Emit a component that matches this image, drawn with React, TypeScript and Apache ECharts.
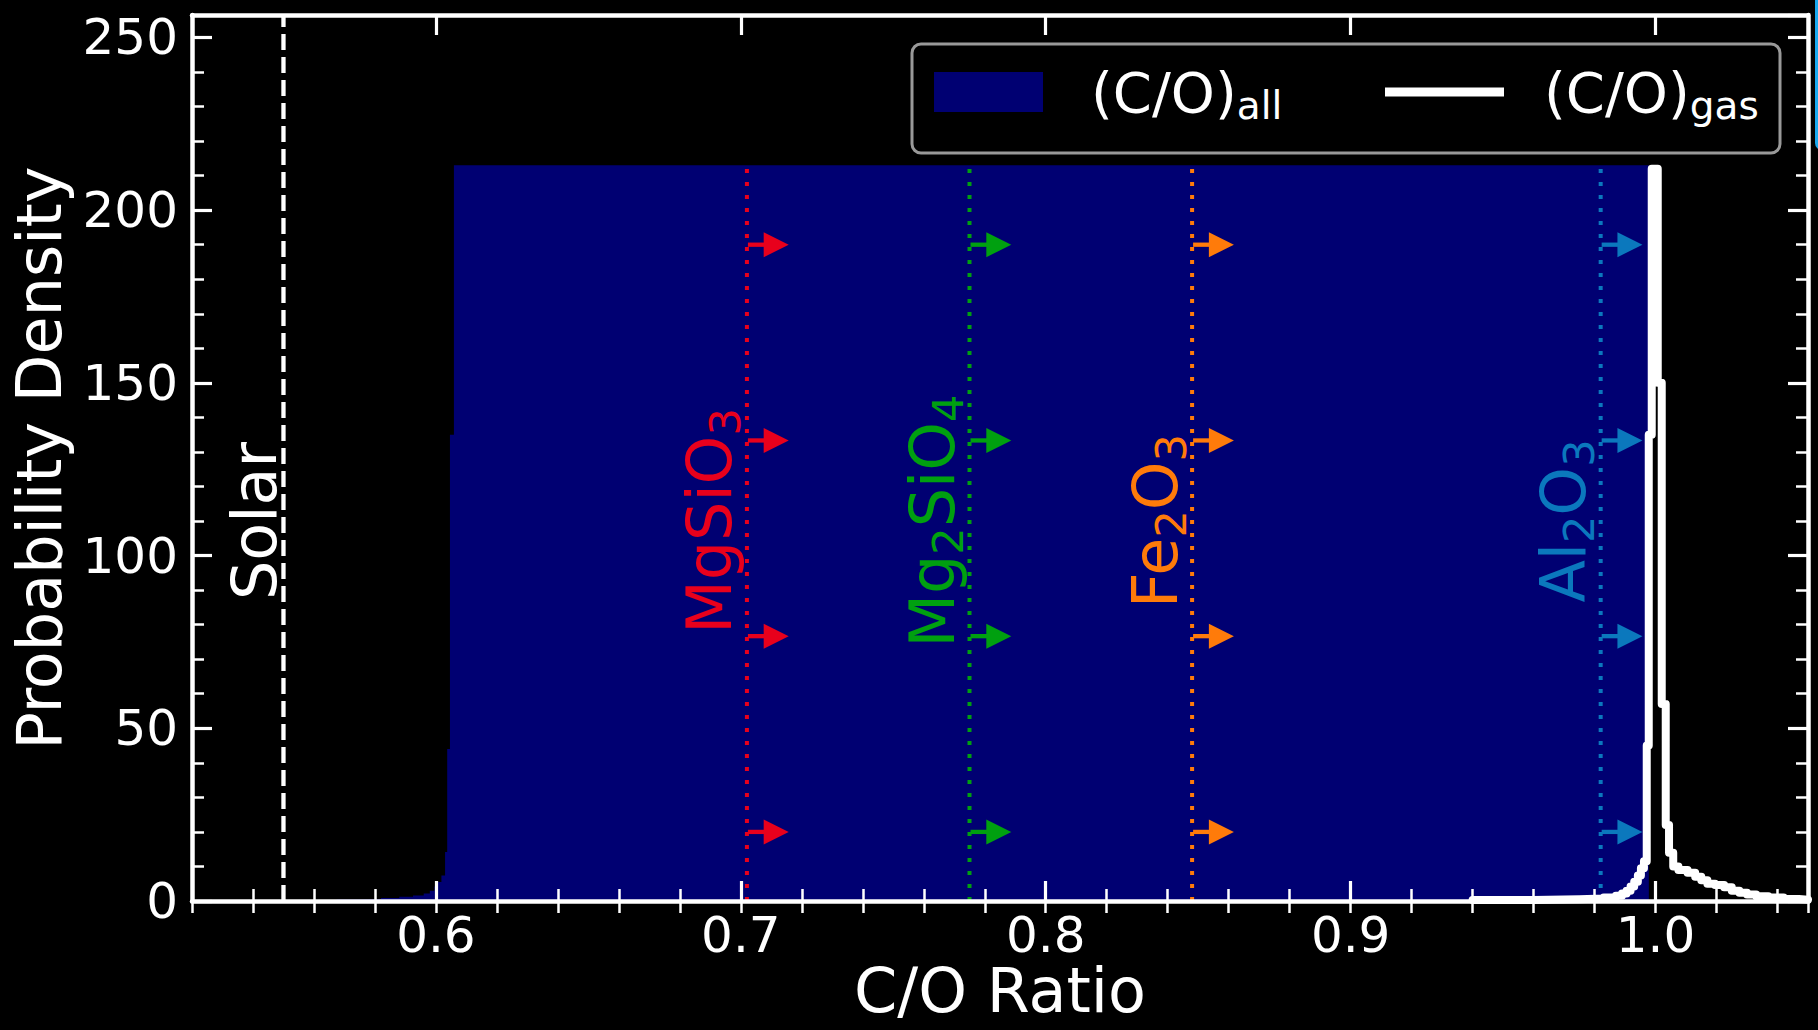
import React, { useEffect, useRef } from "react";
import * as echarts from "echarts";

// ---------- data ----------
const X_MIN = 0.52;
const X_MAX = 1.05;
const Y_MAX = 256.5;
const xMajorTicks = [0.6, 0.7, 0.8, 0.9, 1.0];

// (C/O)_all histogram (left bin edges and densities)
const allEdges = [0.5674, 0.575, 0.582, 0.588, 0.5925, 0.596, 0.598, 0.5995, 0.6005, 0.6018, 0.603, 0.6037, 0.6046, 0.6059];
const allValues = [0.4, 0.6, 0.9, 1.2, 1.6, 2.2, 3.0, 4.2, 5.5, 7.4, 14.2, 44, 135, 213];
const allEnd = 0.9978;

// (C/O)_gas histogram (left bin edges and densities)
const gasEdges = [
  0.94, 0.96, 0.975, 0.983, 0.987, 0.989, 0.9905, 0.9918, 0.993, 0.9942, 0.9952, 0.9962,
  0.99711, 0.99777, 0.99875, 1.00072, 1.00203, 1.00334, 1.00442, 1.0058, 1.0075, 1.0105,
  1.013, 1.015, 1.017, 1.0195, 1.0225, 1.025, 1.0275, 1.03, 1.033, 1.037, 1.042, 1.047,
];
const gasValues = [
  0.3, 0.5, 0.7, 1.0, 1.5, 2.2, 3.0, 4.2, 5.6, 7.4, 9.5, 11.5,
  45, 135, 212, 150, 57, 22, 14, 10, 9.0, 8.2,
  7.0, 6.0, 5.0, 4.6, 4.0, 3.0, 2.4, 1.9, 1.4, 1.0, 0.6, 0.4,
];
const gasEnd = 1.05;

// condensate C/O thresholds
const compoundNames = ["MgSiO3", "Mg2SiO4", "Fe2O3", "Al2O3"];
const compoundRich = ["{m|MgSiO}{s|3}", "{m|Mg}{s|2}{m|SiO}{s|4}", "{m|Fe}{s|2}{m|O}{s|3}", "{m|Al}{s|2}{m|O}{s|3}"];
const compoundCO = [0.702, 0.775, 0.848, 0.982];
const compoundColors = ["#e8001c", "#00a010", "#ff7b0a", "#0b78bd"];
const arrowYs = [20, 76.67, 133.33, 190];
const arrowLen = 0.0137;
const vlineTop = 212;
const labelY = 110;

const solarCO = 0.55;
const solarLabel = "Solar";

// ---------- styling ----------
const FONT = "DejaVu Sans";
const NAVY = "#000072";
const HEAD_LEN = 25;
const HEAD_HALF = 12.5;
const BIG = 62;

const labelRich = (color: string) => ({
  m: { fontFamily: FONT, fontSize: BIG, lineHeight: BIG, verticalAlign: "top", fill: color },
  s: { fontFamily: FONT, fontSize: 43, lineHeight: 68, verticalAlign: "bottom", fill: color },
});
const legendRich = {
  m: { fontFamily: FONT, fontSize: 56, lineHeight: 56, verticalAlign: "top", fill: "#fff" },
  s: { fontFamily: FONT, fontSize: 39, lineHeight: 60, verticalAlign: "bottom", fill: "#fff" },
};

const toPairs = (edges: number[], vals: number[], end: number, endVal: number) => {
  const d: number[][] = edges.map((e, i) => [e, vals[i]]);
  d.push([end, endVal]);
  return d;
};

export default function App() {
  const ref = useRef<HTMLDivElement>(null);
  useEffect(() => {
    if (!ref.current) return;
    const chart = echarts.init(ref.current, undefined, { renderer: "svg" });

    const axisLineStyle = { show: true, onZero: false, lineStyle: { color: "#fff", width: 4.5 } };
    const majorTick = { show: true, inside: true, length: 20, lineStyle: { color: "#fff", width: 3.2 } };
    const minorTickAx = { show: true, inside: true, length: 12, lineStyle: { color: "#fff", width: 2.5 } };

    const xBase = { type: "value", min: X_MIN, max: X_MAX, splitLine: { show: false }, z: 10 };
    const yBase = { type: "value", min: 0, max: Y_MAX, splitLine: { show: false }, z: 10 };

    const option: any = {
      animation: false,
      backgroundColor: "#000",
      grid: { left: 192, right: 10, top: 15, bottom: 129, containLabel: false, outerBoundsMode: "none" },
      xAxis: [
        {
          ...xBase,
          position: "bottom",
          splitNumber: 5,
          axisLine: axisLineStyle,
          axisTick: { ...majorTick, customValues: xMajorTicks },
          axisLabel: {
            customValues: xMajorTicks,
            color: "#fff",
            fontSize: 50,
            lineHeight: 44,
            fontFamily: FONT,
            margin: 12,
            formatter: (v: number) => v.toFixed(1),
          },
          name: "C/O Ratio",
          nameLocation: "middle",
          nameGap: 58,
          nameMoveOverlap: false,
          nameTextStyle: { color: "#fff", fontSize: BIG, fontFamily: FONT },
        },
        { ...xBase, position: "bottom", interval: 0.02, axisLine: { show: false }, axisTick: minorTickAx, axisLabel: { show: false } },
        { ...xBase, position: "top", splitNumber: 5, axisLine: axisLineStyle, axisTick: { ...majorTick, customValues: xMajorTicks }, axisLabel: { show: false } },
        { ...xBase, position: "top", interval: 0.02, axisLine: { show: false }, axisTick: minorTickAx, axisLabel: { show: false } },
      ],
      yAxis: [
        {
          ...yBase,
          position: "left",
          interval: 50,
          axisLine: axisLineStyle,
          axisTick: majorTick,
          axisLabel: { color: "#fff", fontSize: 50, fontFamily: FONT, margin: 14, showMaxLabel: false },
          name: "Probability Density",
          nameLocation: "middle",
          nameGap: 122,
          nameMoveOverlap: false,
          nameTextStyle: { color: "#fff", fontSize: BIG, fontFamily: FONT },
        },
        { ...yBase, position: "left", interval: 10, axisLine: { show: false }, axisTick: minorTickAx, axisLabel: { show: false } },
        { ...yBase, position: "right", interval: 50, axisLine: axisLineStyle, axisTick: majorTick, axisLabel: { show: false } },
        { ...yBase, position: "right", interval: 10, axisLine: { show: false }, axisTick: minorTickAx, axisLabel: { show: false } },
      ],
      graphic: [
        { type: "rect", z: 100, shape: { x: 912, y: 44, width: 868, height: 109, r: 9 }, style: { fill: "rgba(0,0,0,0.8)", stroke: "#999", lineWidth: 3 } },
        { type: "rect", z: 101, shape: { x: 934, y: 72, width: 109, height: 40 }, style: { fill: NAVY } },
        { type: "text", z: 101, x: 1091, y: 94.5, style: { text: "{m|(C/O)}{s|all}", rich: legendRich, align: "left", verticalAlign: "middle", fill: "#fff" } },
        { type: "line", z: 101, shape: { x1: 1385, y1: 92, x2: 1504, y2: 92 }, style: { stroke: "#fff", lineWidth: 9 } },
        { type: "text", z: 101, x: 1544, y: 94.5, style: { text: "{m|(C/O)}{s|gas}", rich: legendRich, align: "left", verticalAlign: "middle", fill: "#fff" } },
        { type: "rect", z: 101, shape: { x: 1815, y: -10, width: 14, height: 160, r: 7 }, style: { fill: "#18a8ee" } },
      ],
      series: [
        {
          name: "(C/O)all",
          type: "line",
          step: "end",
          data: toPairs(allEdges, allValues, allEnd, 0),
          symbol: "none",
          showSymbol: false,
          lineStyle: { width: 0 },
          areaStyle: { color: NAVY, opacity: 1 },
          itemStyle: { color: NAVY },
          z: 1,
          silent: true,
        },
        {
          name: "condensates",
          type: "custom",
          data: compoundCO.map((c) => [c, 0]),
          encode: { x: 0, y: 1 },
          z: 3,
          silent: true,
          renderItem: (params: any, api: any) => {
            const i = params.dataIndex;
            const x = api.value(0);
            const color = compoundColors[i];
            const p0 = api.coord([x, 0]);
            const p1 = api.coord([x, vlineTop]);
            const children: any[] = [
              {
                type: "line",
                shape: { x1: p0[0], y1: p0[1], x2: p1[0], y2: p1[1] },
                style: { stroke: color, lineWidth: 4, lineDash: [4, 9] },
              },
            ];
            arrowYs.forEach((v) => {
              const a = api.coord([x, v]);
              const t = api.coord([x + arrowLen, v]);
              const hb = t[0] - HEAD_LEN;
              children.push({ type: "line", shape: { x1: a[0] + 1, y1: a[1], x2: hb + 2, y2: a[1] }, style: { stroke: color, lineWidth: 4.3 } });
              children.push({
                type: "polygon",
                shape: { points: [[hb, a[1] - HEAD_HALF], [t[0], a[1]], [hb, a[1] + HEAD_HALF]] },
                style: { fill: color },
              });
            });
            const c = api.coord([x, labelY]);
            children.push({
              type: "text",
              x: c[0],
              y: c[1],
              rotation: Math.PI / 2,
              style: { text: compoundRich[i], rich: labelRich(color), align: "center", verticalAlign: "bottom", fill: color },
            });
            return { type: "group", children };
          },
        },
        {
          name: "solar",
          type: "custom",
          data: [[solarCO, 0]],
          encode: { x: 0, y: 1 },
          z: 3,
          silent: true,
          renderItem: (params: any, api: any) => {
            const x = api.value(0);
            const p0 = api.coord([x, 0]);
            const p1 = api.coord([x, Y_MAX]);
            const c = api.coord([x, labelY]);
            return {
              type: "group",
              children: [
                { type: "line", shape: { x1: p0[0], y1: p0[1], x2: p1[0], y2: p1[1] }, style: { stroke: "#fff", lineWidth: 4.3, lineDash: [16, 7] } },
                {
                  type: "text",
                  x: c[0] + 2,
                  y: c[1],
                  rotation: Math.PI / 2,
                  style: { text: solarLabel, fontFamily: FONT, fontSize: BIG, fill: "#fff", align: "center", verticalAlign: "bottom" },
                },
              ],
            };
          },
        },
        {
          name: "(C/O)gas",
          type: "line",
          step: "end",
          data: toPairs(gasEdges, gasValues, gasEnd, gasValues[gasValues.length - 1]),
          symbol: "none",
          showSymbol: false,
          lineStyle: { color: "#fff", width: 8, cap: "round", join: "round" },
          itemStyle: { color: "#fff" },
          z: 4,
          silent: true,
        },
      ],
    };
    chart.setOption(option);
    return () => chart.dispose();
  }, []);

  return (
    <div
      ref={ref}
      style={{ position: "absolute", left: 0, top: 0, width: 1818, height: 1030, background: "#000" }}
    />
  );
}
